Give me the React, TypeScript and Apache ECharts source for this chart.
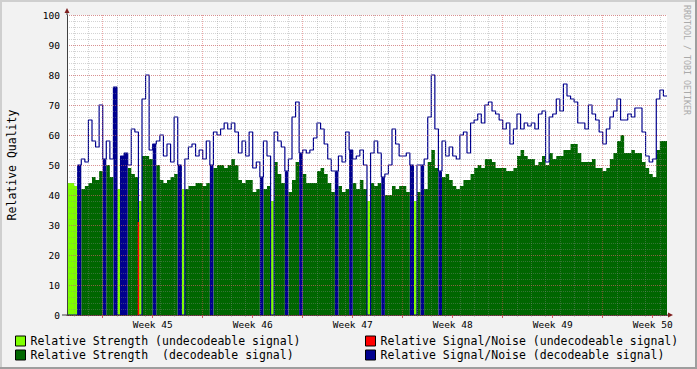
import React, { useEffect, useRef } from 'react';
import * as echarts from 'echarts';

// 6-hour samples across the plotted period (index 0 = left edge of plot)
const weekLabels = ['Week 45', 'Week 46', 'Week 47', 'Week 48', 'Week 49', 'Week 50'];
const weekStartIdx = [10, 38, 66, 94, 122, 150];
const weekLabelIdx = [24, 52, 80, 108, 136, 164];

// Relative strength (height of the green area) per sample
const strength = [
  44, 44, 43, 0, 42, 43, 44, 46, 45, 48,
  0, 50, 46, 0, 42, 0, 0, 49, 47, 46,
  38, 53, 53, 52, 0, 50, 45, 44, 45, 46,
  47, 0, 42, 42, 43, 43, 44, 44, 43, 44,
  0, 49, 50, 50, 49, 50, 52, 50, 45, 44,
  45, 45, 41, 42, 0, 42, 43, 38, 51, 47,
  44, 0, 41, 45, 51, 0, 47, 44, 44, 44,
  48, 49, 47, 44, 41, 0, 43, 41, 42, 0,
  44, 42, 45, 42, 38, 44, 43, 44, 0, 40,
  40, 43, 42, 43, 43, 41, 0, 38, 41, 0,
  42, 51, 55, 49, 0, 46, 47, 45, 43, 42,
  43, 45, 45, 47, 49, 50, 49, 52, 52, 51,
  49, 49, 49, 48, 48, 49, 53, 55, 53, 52,
  52, 50, 51, 53, 50, 54, 52, 53, 53, 55,
  55, 57, 57, 54, 51, 51, 51, 52, 49, 49,
  48, 49, 52, 54, 58, 60, 54, 54, 55, 54,
  54, 51, 49, 47, 46, 55, 58, 58, 58,
];

// Relative signal/noise per sample
const snr = [
  0, 0, 0, 50, 52, 51, 65, 58, 56, 70,
  52, 58, 52, 76, 0, 53, 54, 50, 62, 61,
  0, 72, 80, 55, 57, 58, 60, 53, 57, 51,
  66, 50, 0, 52, 56, 57, 53, 55, 52, 58,
  50, 61, 60, 62, 64, 62, 64, 61, 54, 58,
  53, 61, 49, 51, 46, 58, 53, 0, 61, 58,
  56, 48, 52, 66, 71, 54, 55, 54, 55, 59,
  64, 62, 57, 52, 48, 48, 53, 51, 61, 55,
  52, 53, 55, 50, 0, 54, 58, 54, 46, 47,
  50, 62, 57, 53, 53, 54, 50, 0, 50, 50,
  52, 66, 80, 62, 48, 58, 53, 56, 53, 52,
  60, 61, 54, 64, 65, 67, 64, 70, 71, 68,
  67, 65, 62, 64, 57, 62, 67, 62, 64, 63,
  64, 62, 67, 68, 51, 66, 67, 72, 68, 77,
  73, 72, 71, 64, 64, 62, 70, 67, 65, 61,
  57, 62, 66, 68, 72, 65, 65, 67, 66, 69,
  69, 61, 53, 51, 52, 72, 75, 73, 73,
];

// samples where the signal could not be decoded
const undecodeableIdx = [0, 1, 2, 14, 20, 32, 57, 84, 97];
// samples where the decoded signal dropped out
const dropoutIdx = [3, 10, 13, 15, 16, 24, 31, 40, 54, 61, 65, 75, 79, 88, 96, 99, 104];
// signal/noise of undecodeable signal
const undecSnrIdx = [20];
const undecSnrVal = [31];

const N_LIGHT = 'Relative Strength (undecodeable signal)';
const N_DARK = 'Relative Strength  (decodeable signal)';
const N_RED = 'Relative Signal/Noise (undecodeable signal)';
const N_BLUE = 'Relative Signal/Noise (decodeable signal)';

const C_LIGHT = '#7FFF00';
const C_DARK = '#006600';
const C_BLUE = '#00008E';
const C_RED = '#FF0000';

const MONO = '"DejaVu Sans Mono", monospace';
const MINOR = 'rgba(140,140,140,0.38)';
const MAJOR = 'rgba(222,79,79,0.5)';

export default function App() {
  const ref = useRef<HTMLDivElement>(null);

  useEffect(() => {
    const el = ref.current;
    if (!el) return;
    const chart = echarts.init(el, null, { renderer: 'svg' });

    const cats = strength.map((_, i) => `+${i * 6}h`);
    const weekByCat: Record<string, string> = {};
    weekLabelIdx.forEach((idx, k) => {
      weekByCat[cats[idx]] = weekLabels[k];
    });
    const isU = (i: number) => undecodeableIdx.includes(i);
    const isB = (i: number) => dropoutIdx.includes(i);
    const light = strength.map((v, i) => (isU(i) ? v : 0));
    const dark = strength.map((v, i) => (!isU(i) && !isB(i) ? v : 0));
    const fill = snr.map((v, i) => (isB(i) ? v : 0));
    const line = snr.map((v, i) => (isU(i) ? 0 : v));
    const red = strength.map((_, i) => {
      const k = undecSnrIdx.indexOf(i);
      return k >= 0 ? undecSnrVal[k] : null;
    });

    const legendCommon = {
      orient: 'vertical' as const,
      top: 334,
      itemWidth: 10,
      itemHeight: 10,
      itemGap: 0,
      icon: 'rect',
      selectedMode: false,
      padding: 0,
      itemStyle: { borderColor: '#000', borderWidth: 1 },
      textStyle: { fontFamily: MONO, fontSize: 11.5, color: '#000', lineHeight: 14 },
    };

    chart.setOption({
      animation: false,
      backgroundColor: '#F2F2F2',
      grid: {
        left: 67,
        top: 15,
        width: 600,
        height: 300,
        show: true,
        backgroundColor: '#FFFFFF',
        borderWidth: 0,
        containLabel: false,
        outerBoundsMode: 'none',
      },
      legend: [
        { ...legendCommon, left: 15, data: [N_LIGHT, N_DARK] },
        { ...legendCommon, left: 365, data: [N_RED, N_BLUE] },
      ],
      xAxis: [
        {
          type: 'category',
          data: cats,
          boundaryGap: false,
          position: 'bottom',
          z: 5,
          axisLine: { show: true, lineStyle: { color: '#404040', width: 1 } },
          axisTick: {
            show: true,
            interval: (i: number) => i % 4 === 2,
            length: 2,
            lineStyle: { color: MINOR },
          },
          axisLabel: { show: false },
          splitLine: {
            show: true,
            interval: (i: number) => i % 4 === 2 && !weekStartIdx.includes(i),
            lineStyle: { color: MINOR, type: [1, 1], width: 1 },
          },
        },
        {
          type: 'category',
          data: cats,
          boundaryGap: false,
          position: 'bottom',
          z: 6,
          axisLine: { show: false },
          axisTick: {
            show: true,
            interval: (i: number) => weekStartIdx.includes(i) || weekLabelIdx.includes(i),
            length: 3,
            lineStyle: { color: 'rgba(200,60,60,0.8)' },
          },
          axisLabel: {
            show: true,
            interval: (i: number) => weekLabelIdx.includes(i),
            formatter: (v: string) => weekByCat[v] ?? '',
            margin: 4,
            fontFamily: MONO,
            fontSize: 9.5,
            color: '#000',
          },
          splitLine: {
            show: true,
            interval: (i: number) => weekStartIdx.includes(i),
            lineStyle: { color: MAJOR, type: [1, 1], width: 1 },
          },
        },
      ],
      yAxis: [
        {
          type: 'value',
          min: 0,
          max: 100,
          interval: 2,
          position: 'left',
          z: 5,
          axisLine: { show: false },
          axisTick: { show: false },
          axisLabel: { show: false },
          splitLine: { show: true, lineStyle: { color: MINOR, type: [1, 1], width: 1 } },
        },
        {
          type: 'value',
          min: 0,
          max: 100,
          interval: 10,
          position: 'left',
          z: 6,
          name: 'Relative Quality',
          nameLocation: 'middle',
          nameGap: 49,
          nameRotate: 90,
          nameTextStyle: { fontFamily: MONO, fontSize: 11.5, color: '#000' },
          axisLine: { show: true, lineStyle: { color: '#404040', width: 1 } },
          axisTick: { show: false },
          axisLabel: { margin: 7, fontFamily: MONO, fontSize: 9.5, color: '#000' },
          splitLine: { show: true, lineStyle: { color: MAJOR, type: [1, 1], width: 1 } },
        },
      ],
      series: [
        {
          name: N_LIGHT,
          type: 'line',
          step: 'end',
          data: light,
          symbol: 'none',
          showSymbol: false,
          silent: true,
          color: C_LIGHT,
          itemStyle: { color: C_LIGHT },
          lineStyle: { width: 0 },
          areaStyle: { color: C_LIGHT, opacity: 1 },
        },
        {
          name: N_DARK,
          type: 'line',
          step: 'end',
          data: dark,
          symbol: 'none',
          showSymbol: false,
          silent: true,
          color: C_DARK,
          itemStyle: { color: C_DARK },
          lineStyle: { width: 0 },
          areaStyle: { color: C_DARK, opacity: 1 },
        },
        {
          name: 'dropout',
          type: 'line',
          step: 'end',
          data: fill,
          symbol: 'none',
          showSymbol: false,
          silent: true,
          color: C_BLUE,
          itemStyle: { color: C_BLUE },
          lineStyle: { width: 0 },
          areaStyle: { color: C_BLUE, opacity: 1 },
        },
        {
          name: N_BLUE,
          type: 'line',
          step: 'end',
          data: line,
          symbol: 'none',
          showSymbol: false,
          silent: true,
          color: C_BLUE,
          itemStyle: { color: C_BLUE },
          lineStyle: { width: 1.2, color: C_BLUE },
        },
        {
          name: N_RED,
          type: 'bar',
          data: red,
          barWidth: 1.5,
          silent: true,
          z: 4,
          color: C_RED,
          itemStyle: { color: C_RED },
        },
      ],
      graphic: [
        { type: 'rect', silent: true, shape: { x: 0, y: 0, width: 697, height: 2 }, style: { fill: '#CFCFCF' } },
        { type: 'rect', silent: true, shape: { x: 0, y: 0, width: 2, height: 369 }, style: { fill: '#CFCFCF' } },
        { type: 'rect', silent: true, shape: { x: 0, y: 367, width: 697, height: 2 }, style: { fill: '#9E9E9E' } },
        { type: 'rect', silent: true, shape: { x: 695, y: 0, width: 2, height: 369 }, style: { fill: '#9E9E9E' } },
        {
          type: 'text',
          silent: true,
          x: 687,
          y: 5,
          rotation: -Math.PI / 2,
          style: {
            text: 'RRDTOOL / TOBI OETIKER',
            fill: '#AAAAAA',
            fontFamily: MONO,
            fontSize: 8.3,
            align: 'left',
            verticalAlign: 'middle',
          },
        },
        { type: 'line', silent: true, shape: { x1: 67, y1: 15, x2: 67, y2: 12 }, style: { stroke: '#404040', lineWidth: 1 } },
        { type: 'line', silent: true, shape: { x1: 62, y1: 315, x2: 67, y2: 315 }, style: { stroke: '#404040', lineWidth: 1 } },
        { type: 'line', silent: true, shape: { x1: 667, y1: 315, x2: 670, y2: 315 }, style: { stroke: '#404040', lineWidth: 1 } },
        { type: 'polygon', silent: true, shape: { points: [[64.5, 13], [69.5, 13], [67, 8]] }, style: { fill: '#7F1F1F' } },
        { type: 'polygon', silent: true, shape: { points: [[668, 312.5], [668, 317.5], [673, 315]] }, style: { fill: '#7F1F1F' } },
      ],
    });

    return () => {
      chart.dispose();
    };
  }, []);

  return (
    <div
      ref={ref}
      style={{ position: 'fixed', left: 0, top: 0, width: 697, height: 369 }}
    />
  );
}
